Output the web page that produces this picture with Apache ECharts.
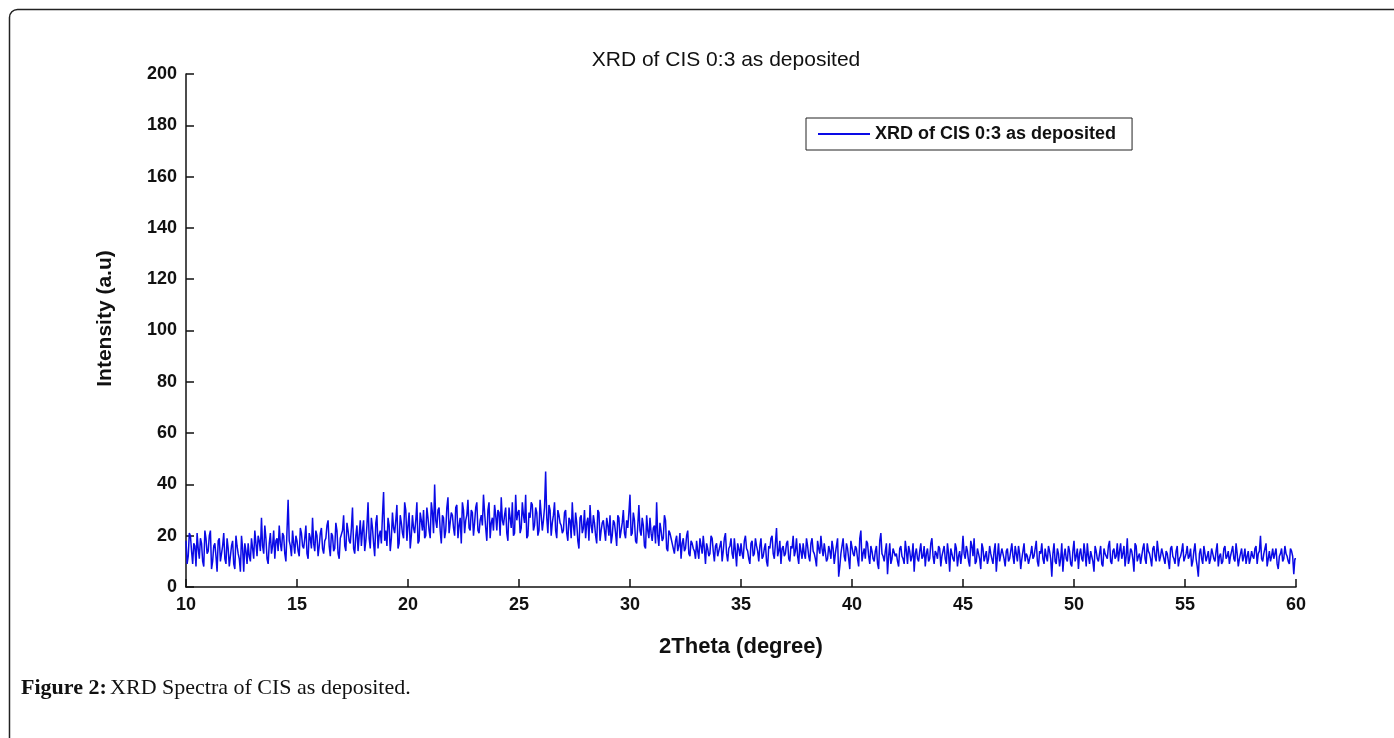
<!DOCTYPE html>
<html lang="en">
<head>
    <meta charset="utf-8">
    <script src="https://cdn.jsdelivr.net/npm/echarts@6/dist/echarts.min.js"></script>
    <title>xrd_cis</title>
</head>
<body>
<style>
    html, body, #main {
        width: 100%;
        height: 100%;
        margin: 0;
        background: #fff;
    }
</style>
<div id='main'></div>
<script>
    // 2theta axis: 10 .. 60, step 0.1 (plus the x.x5 readings in between)
    var thetaStart = 10;
    var thetaStep = 0.1;
    var yTicks = [0, 20, 40, 60, 80, 100, 120, 140, 160, 180, 200];
    var xTicks = [10, 15, 20, 25, 30, 35, 40, 45, 50, 55, 60];
    // intensity at 10.0, 10.1, ... 60.0 (one row per degree)
    var intensity = [
        18, 12, 20, 9, 16, 21, 11, 17, 8, 19,
        14, 22, 10, 17, 6, 19, 13, 21, 9, 15,
        12, 18, 7, 16, 11, 20, 6, 14, 17, 10,
        15, 22, 12, 18, 27, 13, 19, 9, 21, 16,
        11, 19, 24, 14, 20, 10, 34, 16, 22, 13,
        18, 12, 21, 15, 24, 11, 19, 27, 14, 20,
        16, 23, 13, 19, 26, 12, 20, 15, 22, 11,
        19, 28, 14, 22, 17, 31, 13, 24, 20, 16,
        26, 18, 33, 15, 23, 12, 28, 20, 17, 37,
        22, 27, 14, 29, 21, 32, 17, 25, 19, 30,
        24, 15, 28, 21, 33, 18, 26, 30, 20, 27,
        19, 29, 40, 23, 31, 17, 27, 22, 35, 25,
        28, 20, 32, 24, 17, 30, 26, 34, 22, 29,
        25, 33, 21, 28, 36, 23, 30, 19, 27, 32,
        22, 29, 35, 24, 31, 18, 27, 33, 21, 26,
        30, 23, 28, 36, 20, 27, 32, 24, 29, 22,
        34, 26, 45, 21, 30, 25, 33, 19, 28, 24,
        22, 30, 18, 26, 33, 20, 25, 15, 28, 23,
        19, 27, 32, 21, 25, 17, 29, 22, 26, 18,
        24, 28, 20, 25, 16, 27, 22, 30, 19, 23,
        36, 21, 26, 17, 32, 20, 24, 15, 22, 27,
        18, 24, 33, 16, 22, 19, 26, 14, 21, 17,
        13, 20, 16, 11, 19, 15, 22, 12, 17, 14,
        18, 11, 16, 20, 9, 15, 13, 19, 10, 17,
        12, 18, 14, 21, 10, 16, 13, 19, 8, 15,
        17, 11, 20, 14, 9, 18, 13, 16, 10, 19,
        12, 17, 8, 15, 20, 11, 23, 14, 9, 16,
        13, 18, 10, 15, 12, 19, 9, 14, 17, 11,
        16, 10, 19, 13, 8, 15, 20, 12, 17, 11,
        14, 18, 9, 16, 4, 13, 19, 10, 15, 7,
        18, 12, 15, 8, 22, 13, 11, 17, 9, 14,
        10, 16, 7, 21, 12, 14, 5, 17, 11, 15,
        13, 8, 16, 11, 18, 9, 14, 12, 6, 15,
        10, 17, 12, 8, 15, 11, 19, 9, 13, 16,
        8, 14, 11, 17, 6, 13, 10, 15, 12, 9,
        20, 11, 14, 8, 16, 19, 10, 13, 7, 15,
        12, 9, 16, 11, 14, 6, 17, 10, 13, 8,
        15, 11, 17, 9, 13, 16, 7, 14, 10, 12,
        9, 16, 12, 18, 8, 13, 11, 15, 10, 14,
        4, 17, 9, 13, 11, 6, 15, 10, 14, 8,
        18, 12, 7, 15, 10, 13, 17, 9, 12, 6,
        14, 10, 16, 8, 13, 11, 18, 9, 15, 12,
        10, 17, 13, 8, 19, 11, 14, 6, 16, 12,
        9, 15, 11, 17, 13, 8, 16, 10, 14, 12,
        15, 9, 13, 7, 16, 11, 14, 8, 12, 17,
        10, 16, 12, 8, 14, 11, 4, 15, 9, 13,
        12, 9, 15, 11, 14, 8, 13, 10, 16, 12,
        9, 14, 11, 17, 8, 13, 10, 15, 12, 9,
        14, 11, 16, 13, 20, 10, 15, 8, 14, 12,
        11, 15, 7, 13, 10, 16, 12, 9, 14, 5,
        11
    ];
    // intensity at 10.05, 10.15, ... 59.95
    var intensityMid = [
        9, 21, 14, 17, 8, 15, 19, 10, 22, 13,
        20, 7, 16, 12, 18, 10, 16, 11, 19, 8,
        16, 9, 20, 13, 6, 15, 17, 9, 12, 19,
        11, 17, 20, 14, 16, 24, 11, 17, 13, 22,
        18, 14, 17, 21, 13, 22, 18, 12, 17, 20,
        14, 23, 16, 19, 13, 21, 15, 17, 22, 12,
        21, 15, 18, 24, 16, 21, 14, 25, 13, 19,
        22, 16, 25, 18, 23, 15, 20, 14, 26, 22,
        14, 24, 19, 27, 17, 25, 15, 22, 28, 18,
        16, 24, 19, 23, 26, 15, 28, 21, 33, 18,
        29, 20, 23, 26, 17, 29, 22, 19, 31, 22,
        33, 21, 26, 30, 22, 28, 19, 31, 21, 29,
        23, 31, 19, 27, 33, 21, 28, 23, 30, 20,
        31, 22, 26, 24, 29, 18, 33, 25, 22, 28,
        30, 20, 26, 28, 21, 31, 23, 20, 36, 29,
        21, 33, 25, 19, 29, 33, 22, 31, 20, 34,
        22, 31, 27, 32, 20, 28, 22, 30, 25, 21,
        29, 21, 27, 19, 24, 29, 18, 27, 21, 30,
        25, 18, 24, 28, 20, 30, 18, 25, 22, 27,
        20, 17, 26, 21, 28, 19, 25, 21, 26, 29,
        20, 29, 18, 24, 22, 27, 16, 28, 19, 21,
        23, 17, 20, 25, 18, 28, 15, 22, 19, 15,
        18, 14, 21, 17, 14, 20, 13, 18, 15, 11,
        14, 19, 13, 15, 17, 12, 20, 14, 16, 12,
        16, 10, 19, 13, 15, 19, 11, 14, 17, 12,
        13, 18, 15, 11, 17, 12, 19, 14, 16, 11,
        15, 10, 16, 19, 13, 17, 12, 18, 15, 12,
        17, 11, 16, 20, 14, 12, 17, 11, 13, 19,
        12, 17, 14, 11, 18, 13, 15, 17, 10, 16,
        11, 15, 13, 19, 8, 16, 12, 17, 11, 18,
        13, 16, 11, 19, 10, 15, 18, 12, 16, 11,
        14, 9, 18, 13, 10, 17, 12, 9, 15, 12,
        10, 15, 12, 9, 14, 16, 10, 17, 13, 11,
        14, 11, 16, 13, 10, 17, 12, 14, 11, 15,
        12, 16, 9, 13, 15, 11, 17, 8, 14, 13,
        13, 16, 10, 18, 12, 9, 15, 11, 17, 10,
        14, 11, 13, 9, 17, 12, 10, 15, 11, 14,
        10, 14, 12, 16, 10, 13, 11, 17, 13, 9,
        13, 11, 15, 10, 14, 17, 9, 12, 16, 11,
        13, 10, 15, 8, 17, 12, 11, 16, 9, 14,
        10, 15, 13, 11, 17, 8, 12, 14, 10, 16,
        11, 13, 9, 15, 12, 16, 10, 14, 11, 17,
        14, 11, 16, 12, 9, 15, 11, 17, 10, 13,
        12, 17, 9, 14, 11, 15, 12, 18, 10, 15,
        11, 14, 10, 15, 12, 9, 16, 11, 14, 10,
        13, 11, 15, 10, 17, 8, 13, 11, 16, 10,
        14, 11, 13, 10, 17, 12, 9, 15, 11, 14,
        12, 16, 10, 13, 11, 15, 12, 9, 14, 11,
        12, 15, 9, 14, 11, 13, 17, 11, 10, 15,
        13, 9, 12, 15, 11, 13, 10, 15, 12, 11
    ];

    var points = [];
    for (var i = 0; i < intensity.length; i++) {
        var t = thetaStart + i * thetaStep;
        points.push([+t.toFixed(2), intensity[i]]);
        if (i < intensityMid.length) {
            points.push([+(t + thetaStep / 2).toFixed(2), intensityMid[i]]);
        }
    }

    var axisFont = "'Liberation Sans Narrow', 'Arial Narrow', 'Liberation Sans', sans-serif";
    var plainFont = "'Liberation Sans', Arial, sans-serif";
    var serifFont = "'Liberation Serif', 'DejaVu Serif', serif";
    var chart = echarts.init(document.getElementById('main'));
    var option = {
        animation: false,
        backgroundColor: '#fff',
        title: {
            text: 'XRD of CIS 0:3 as deposited',
            left: 721,
            top: 45,
            textAlign: 'center',
            textStyle: {
                fontFamily: plainFont,
                fontWeight: 'normal',
                fontSize: 21,
                color: '#111'
            }
        },
        legend: {
            data: ['XRD of CIS 0:3 as deposited'],
            left: 806,
            top: 118,
            padding: [7, 16, 7, 12],
            itemWidth: 52,
            itemHeight: 2,
            itemGap: 8,
            icon: 'rect',
            borderColor: '#222',
            borderWidth: 1,
            borderRadius: 0,
            backgroundColor: '#fff',
            textStyle: {
                fontFamily: axisFont,
                fontWeight: 'bold',
                fontSize: 18,
                color: '#111'
            }
        },
        grid: {
            left: 186,
            right: 98,
            top: 74,
            bottom: 151,
            containLabel: false
        },
        xAxis: {
            type: 'value',
            min: xTicks[0],
            max: xTicks[xTicks.length - 1],
            interval: 5,
            name: '2Theta (degree)',
            nameLocation: 'middle',
            nameGap: 49,
            nameTextStyle: {
                fontFamily: plainFont,
                fontWeight: 'bold',
                fontSize: 22,
                color: '#111'
            },
            axisLine: { lineStyle: { color: '#111', width: 1.5 } },
            axisTick: { inside: true, length: 8, lineStyle: { color: '#111', width: 1.5 } },
            axisLabel: {
                margin: 9,
                fontFamily: axisFont,
                fontWeight: 'bold',
                fontSize: 18,
                color: '#111'
            },
            splitLine: { show: false }
        },
        yAxis: {
            type: 'value',
            min: yTicks[0],
            max: yTicks[yTicks.length - 1],
            interval: 20,
            name: 'Intensity (a.u)',
            nameLocation: 'middle',
            nameGap: 70,
            nameTextStyle: {
                fontFamily: plainFont,
                fontWeight: 'bold',
                fontSize: 21,
                color: '#111',
                padding: [0, 0, 0, 24]
            },
            axisLine: { show: true, lineStyle: { color: '#111', width: 1.5 } },
            axisTick: { show: true, inside: true, length: 8, lineStyle: { color: '#111', width: 1.5 } },
            axisLabel: {
                margin: 9,
                fontFamily: axisFont,
                fontWeight: 'bold',
                fontSize: 18,
                color: '#111'
            },
            splitLine: { show: false }
        },
        series: [{
            name: 'XRD of CIS 0:3 as deposited',
            type: 'line',
            data: points,
            showSymbol: false,
            symbol: 'none',
            sampling: null,
            color: '#0a0ae6',
            lineStyle: { color: '#0a0ae6', width: 1.5 },
            z: 1
        }],
        graphic: [
            {
                type: 'rect',
                shape: { x: 9.5, y: 9.5, width: 1500, height: 900, r: 8 },
                style: { fill: 'none', stroke: '#222', lineWidth: 1.5 },
                silent: true
            },
            {
                type: 'text',
                left: 21,
                top: 677,
                style: {
                    rich: {
                        b: {
                            fontFamily: serifFont,
                            fontWeight: 'bold',
                            fontSize: 22,
                            fill: '#111'
                        },
                        n: {
                            fontFamily: serifFont,
                            fontSize: 22,
                            fill: '#111'
                        }
                    },
                    text: '{b|Figure 2:} {n|XRD Spectra of CIS as deposited.}'
                }
            }
        ]
    };
    chart.setOption(option);
    window.onresize = chart.resize;
</script>
</body>
</html>
